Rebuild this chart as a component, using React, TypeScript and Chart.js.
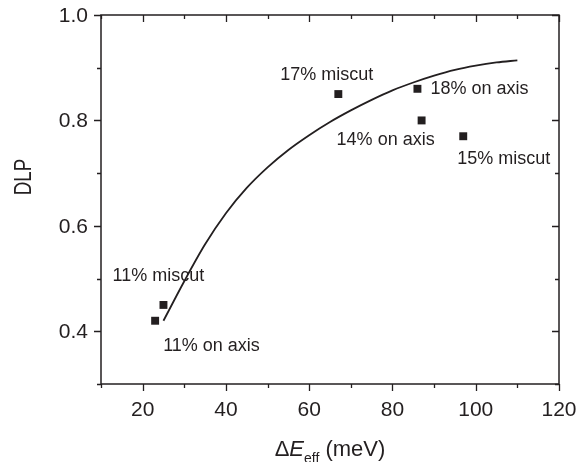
import React, { useEffect, useRef } from "react";
import { Chart, registerables } from "chart.js";

Chart.register(...registerables);

// Measured points
const pointX = [23, 25, 67, 86, 87, 97];
const pointY = [0.42, 0.45, 0.85, 0.86, 0.8, 0.77];
const pointLabels = ["11% on axis", "11% miscut", "17% miscut", "18% on axis", "14% on axis", "15% miscut"];

// Fitted curve
const curveX = [25, 30, 35, 40, 45, 50, 55, 60, 65, 70, 75, 80, 85, 90, 95, 100, 105, 110];
const curveY = [0.42, 0.495, 0.565, 0.624, 0.672, 0.711, 0.744, 0.772, 0.797, 0.819, 0.839, 0.857, 0.872, 0.885, 0.896, 0.904, 0.91, 0.914];

// Axis ticks
const xTicks = [20, 40, 60, 80, 100, 120];
const xMinorTicks = [10, 30, 50, 70, 90, 110];
const yTicks = [0.4, 0.6, 0.8, 1.0];
const yMinorTicks = [0.3, 0.5, 0.7, 0.9];

// Label offsets (pixels) relative to their point: [dx to left edge, dy to text middle]
const labelOffsets: [number, number][] = [
  [8, 25],
  [-51, -29],
  [-58, -19],
  [13, 0],
  [-85, 20],
  [-6, 23],
];

const INK = "#231f20";
const FONT = "'Liberation Sans', Arial, Helvetica, sans-serif";

const decorPlugin = {
  id: "decor",
  afterDraw(chart: any) {
    const { ctx, chartArea, scales } = chart;
    const xs = scales.x;
    const ys = scales.y;
    const { left, right, top, bottom } = chartArea;
    ctx.save();
    ctx.strokeStyle = INK;
    ctx.lineWidth = 1.5;
    ctx.strokeRect(left, top, right - left, bottom - top);
    ctx.lineWidth = 1.3;
    const majorLen = 7;
    const minorLen = 4;
    ctx.beginPath();
    const xt = (vals: number[], len: number) => {
      vals.forEach((v) => {
        const px = Math.round(xs.getPixelForValue(v)) + 0.5;
        ctx.moveTo(px, bottom);
        ctx.lineTo(px, bottom + len);
        ctx.moveTo(px, top);
        ctx.lineTo(px, top + len);
      });
    };
    const yt = (vals: number[], len: number) => {
      vals.forEach((v) => {
        const py = Math.round(ys.getPixelForValue(v)) + 0.5;
        ctx.moveTo(left, py);
        ctx.lineTo(left - len, py);
        ctx.moveTo(right, py);
        ctx.lineTo(right - len, py);
      });
    };
    xt(xTicks, majorLen);
    xt(xMinorTicks, minorLen);
    yt(yTicks, majorLen);
    yt(yMinorTicks, minorLen);
    ctx.stroke();

    ctx.fillStyle = INK;

    // tick labels
    ctx.font = `21px ${FONT}`;
    ctx.textBaseline = "middle";
    ctx.textAlign = "center";
    xTicks.forEach((v) => {
      ctx.fillText(String(v), xs.getPixelForValue(v), bottom + 26);
    });
    ctx.textAlign = "right";
    yTicks.forEach((v) => {
      ctx.fillText(v.toFixed(1), left - 13, ys.getPixelForValue(v) + 1);
    });

    // point labels
    ctx.font = `18px ${FONT}`;
    ctx.textBaseline = "middle";
    ctx.textAlign = "left";
    pointLabels.forEach((t, i) => {
      const px = xs.getPixelForValue(pointX[i]);
      const py = ys.getPixelForValue(pointY[i]);
      const [dx, dy] = labelOffsets[i];
      ctx.fillText(t, px + dx, py + dy);
    });

    // y title
    ctx.save();
    ctx.translate(23, 177);
    ctx.rotate(-Math.PI / 2);
    ctx.scale(0.78, 1);
    ctx.font = `24px ${FONT}`;
    ctx.textAlign = "center";
    ctx.textBaseline = "middle";
    ctx.fillText("DLP", 0, 1);
    ctx.restore();

    // x title: ΔE_eff (meV)
    const baseY = 456;
    const mainFont = `22px ${FONT}`;
    const italFont = `italic 22px ${FONT}`;
    const subFont = `14px ${FONT}`;
    ctx.textBaseline = "alphabetic";
    ctx.textAlign = "left";
    const parts: [string, string, number][] = [
      ["Δ", mainFont, 0],
      ["E", italFont, 0],
      ["eff", subFont, 7],
      [" (meV)", mainFont, 0],
    ];
    let total = 0;
    parts.forEach(([t, f]) => {
      ctx.font = f;
      total += ctx.measureText(t).width;
    });
    let cx = (left + right) / 2 - total / 2;
    parts.forEach(([t, f, off]) => {
      ctx.font = f;
      ctx.fillText(t, cx, baseY + off);
      cx += ctx.measureText(t).width;
    });
    ctx.restore();
  },
};

export default function App() {
  const ref = useRef<HTMLCanvasElement | null>(null);
  useEffect(() => {
    if (!ref.current) return;
    const chart = new Chart(ref.current, {
      type: "scatter",
      data: {
        datasets: [
          {
            label: "fit",
            data: curveX.map((x, i) => ({ x, y: curveY[i] })),
            showLine: true,
            borderColor: INK,
            borderWidth: 1.8,
            pointRadius: 0,
            cubicInterpolationMode: "monotone",
            fill: false,
          } as any,
          {
            label: "DLP",
            data: pointX.map((x, i) => ({ x, y: pointY[i] })),
            showLine: false,
            pointStyle: "rect",
            pointRadius: 5.6,
            backgroundColor: INK,
            borderColor: INK,
            borderWidth: 0,
          } as any,
        ],
      },
      options: {
        animation: false,
        responsive: false,
        layout: { padding: { left: 0, top: 15, right: 22, bottom: 0 } },
        plugins: { legend: { display: false }, tooltip: { enabled: false } },
        scales: {
          x: {
            type: "linear",
            min: 10,
            max: 120,
            grid: { display: false, drawTicks: false },
            border: { display: false },
            afterBuildTicks: (s: any) => {
              s.ticks = xTicks.map((v) => ({ value: v }));
            },
            afterFit: (s: any) => {
              s.height = 78;
            },
            ticks: { display: false },
          },
          y: {
            type: "linear",
            min: 0.3,
            max: 1.0,
            grid: { display: false, drawTicks: false },
            border: { display: false },
            afterBuildTicks: (s: any) => {
              s.ticks = yTicks.map((v) => ({ value: v }));
            },
            afterFit: (s: any) => {
              s.width = 101;
            },
            ticks: { display: false },
          },
        },
      } as any,
      plugins: [decorPlugin],
    });
    return () => chart.destroy();
  }, []);
  return (
    <div style={{ position: "absolute", left: 0, top: 0, width: 581, height: 462, background: "#fff" }}>
      <canvas ref={ref} width={581} height={462} style={{ display: "block" }} />
    </div>
  );
}
